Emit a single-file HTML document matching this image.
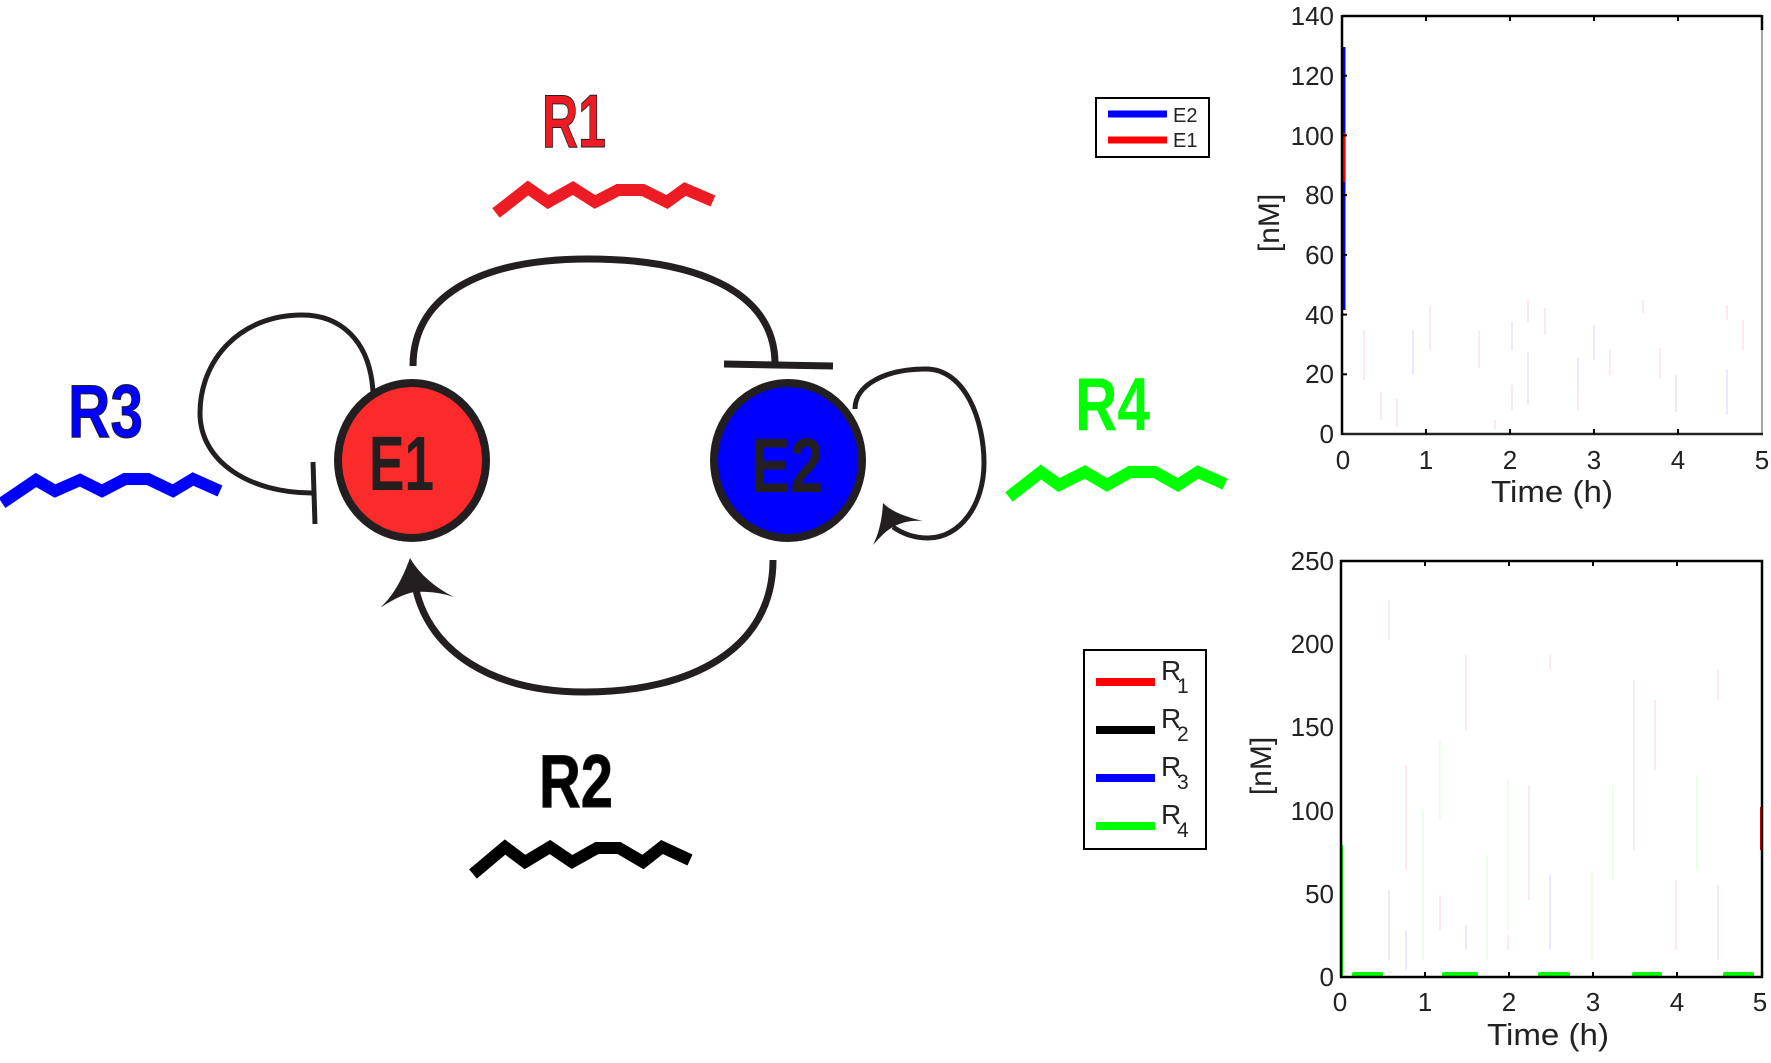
<!DOCTYPE html>
<html>
<head>
<meta charset="utf-8">
<style>
  html, body { margin: 0; padding: 0; background: #ffffff; }
  svg { display: block; }
  text { font-family: "Liberation Sans", "DejaVu Sans", sans-serif; }
</style>
</head>
<body>
<svg width="1771" height="1063" viewBox="0 0 1771 1063" xmlns="http://www.w3.org/2000/svg">
  <rect x="0" y="0" width="1771" height="1063" fill="#ffffff"/>

  <!-- ================= DIAGRAM ================= -->
  <path d="M413,366 C413,290 490,259 588,259 C690,259 775,288 775,364" fill="none" stroke="#231f20" stroke-width="7"/>
  <line x1="724" y1="364" x2="833" y2="366" stroke="#231f20" stroke-width="7"/>

  <path d="M773,560 C773,650 690,692 585,692 C490,692 430,650 416,590" fill="none" stroke="#231f20" stroke-width="7"/>
  <path d="M410,558 C402,580 393,596 380,608 C392,600 404,594 414,592 C428,591 442,593 454,597 C436,588 420,575 410,558 Z" fill="#231f20"/>

  <path d="M373,392 C370,340 340,315 302,315 C240,315 200,360 200,413 C200,462 250,493 312,493" fill="none" stroke="#231f20" stroke-width="5"/>
  <line x1="313" y1="462" x2="315" y2="524" stroke="#231f20" stroke-width="5"/>

  <path d="M855,409 C855,385 885,369 926,369 C965,369 984,420 984,463 C984,505 960,538 928,538 C915,538 903,534 893,527" fill="none" stroke="#231f20" stroke-width="5"/>
  <path d="M883,503 C882,520 879,533 873,545 C881,536 887,530 893,527 C902,522 912,520 923,521 C906,517 892,512 883,503 Z" fill="#231f20"/>

  <ellipse cx="412" cy="460.5" rx="74" ry="77.5" fill="#fb2a2b" stroke="#231f20" stroke-width="8"/>
  <text x="369" y="490" font-size="77" font-weight="bold" fill="#231f20" textLength="65" lengthAdjust="spacingAndGlyphs">E1</text>

  <ellipse cx="788" cy="460.5" rx="74" ry="77.5" fill="#0000ff" stroke="#231f20" stroke-width="8"/>
  <text x="751" y="492" font-size="77" font-weight="bold" fill="#231f20" textLength="72" lengthAdjust="spacingAndGlyphs">E2</text>

  <text x="542" y="147" font-size="75" font-weight="bold" fill="#ed1c24" stroke="#231f20" stroke-width="1" textLength="64" lengthAdjust="spacingAndGlyphs">R1</text>
  <polyline points="496,213 528,188 548,202 573,188 595,202 618,190 643,190 667,202 685,189 713,201" fill="none" stroke="#ed1c24" stroke-width="12" stroke-linejoin="miter"/>

  <text x="68" y="437" font-size="75" font-weight="bold" fill="#0000ff" stroke="#231f20" stroke-width="1" textLength="75" lengthAdjust="spacingAndGlyphs">R3</text>
  <polyline points="2,503 36,480 55,491 80,480 102,491 125,479 148,479 173,491 193,479 220,491" fill="none" stroke="#0000ff" stroke-width="12" stroke-linejoin="miter"/>

  <text x="1075" y="430" font-size="75" font-weight="bold" fill="#00ff00" textLength="75" lengthAdjust="spacingAndGlyphs">R4</text>
  <polyline points="1009,497 1041,472 1059,485 1085,472 1107,485 1130,472 1155,472 1178,485 1198,472 1225,484" fill="none" stroke="#00ff00" stroke-width="12" stroke-linejoin="miter"/>

  <text x="539" y="807" font-size="75" font-weight="bold" fill="#000000" stroke="#231f20" stroke-width="1" textLength="74" lengthAdjust="spacingAndGlyphs">R2</text>
  <polyline points="473,874 505,847 525,862 550,847 572,862 597,848 619,848 643,862 662,847 690,860" fill="none" stroke="#000000" stroke-width="12" stroke-linejoin="miter"/>

  <!-- ================= LEGEND 1 ================= -->
  <rect x="1096" y="98" width="113" height="59" fill="#ffffff" stroke="#000000" stroke-width="2"/>
  <line x1="1108" y1="114" x2="1167" y2="114" stroke="#0000ff" stroke-width="7"/>
  <line x1="1108" y1="140" x2="1167" y2="140" stroke="#ff0000" stroke-width="7"/>
  <text x="1173" y="122" font-size="20" fill="#222">E2</text>
  <text x="1173" y="147" font-size="20" fill="#222">E1</text>

  <!-- ================= LEGEND 2 ================= -->
  <rect x="1084" y="650" width="122" height="199" fill="#ffffff" stroke="#000000" stroke-width="2"/>
  <line x1="1096" y1="682" x2="1155" y2="682" stroke="#ff0000" stroke-width="8"/>
  <line x1="1096" y1="730" x2="1155" y2="730" stroke="#000000" stroke-width="8"/>
  <line x1="1096" y1="778" x2="1155" y2="778" stroke="#0000ff" stroke-width="8"/>
  <line x1="1096" y1="826" x2="1155" y2="826" stroke="#00ff00" stroke-width="8"/>
  <g fill="#222">
    <text x="1161" y="680" font-size="28">R</text><text x="1177" y="693" font-size="21">1</text>
    <text x="1161" y="728" font-size="28">R</text><text x="1177" y="741" font-size="21">2</text>
    <text x="1161" y="776" font-size="28">R</text><text x="1177" y="789" font-size="21">3</text>
    <text x="1161" y="824" font-size="28">R</text><text x="1177" y="837" font-size="21">4</text>
  </g>

  <!-- ================= TOP PLOT ================= -->
  <g>
    <g stroke-width="1.2" opacity="0.14">
      <line x1="1364" y1="330" x2="1364" y2="380" stroke="#ff0000"/>
      <line x1="1381" y1="392" x2="1381" y2="420" stroke="#ff0000"/>
      <line x1="1397" y1="399" x2="1397" y2="427" stroke="#ff0000"/>
      <line x1="1413" y1="330" x2="1413" y2="375" stroke="#0000ff"/>
      <line x1="1430" y1="306" x2="1430" y2="350" stroke="#ff0000"/>
      <line x1="1479" y1="331" x2="1479" y2="368" stroke="#ff0000"/>
      <line x1="1495" y1="420" x2="1495" y2="430" stroke="#ff0000"/>
      <line x1="1512" y1="385" x2="1512" y2="410" stroke="#ff0000"/>
      <line x1="1512" y1="322" x2="1512" y2="350" stroke="#0000ff"/>
      <line x1="1528" y1="300" x2="1528" y2="322" stroke="#ff0000"/>
      <line x1="1528" y1="352" x2="1528" y2="405" stroke="#0000ff"/>
      <line x1="1545" y1="308" x2="1545" y2="335" stroke="#ff0000"/>
      <line x1="1578" y1="388" x2="1578" y2="410" stroke="#ff0000"/>
      <line x1="1578" y1="358" x2="1578" y2="390" stroke="#0000ff"/>
      <line x1="1594" y1="325" x2="1594" y2="360" stroke="#0000ff"/>
      <line x1="1610" y1="350" x2="1610" y2="375" stroke="#ff0000"/>
      <line x1="1643" y1="300" x2="1643" y2="313" stroke="#ff0000"/>
      <line x1="1660" y1="348" x2="1660" y2="378" stroke="#ff0000"/>
      <line x1="1676" y1="375" x2="1676" y2="412" stroke="#0000ff"/>
      <line x1="1727" y1="305" x2="1727" y2="320" stroke="#ff0000"/>
      <line x1="1727" y1="370" x2="1727" y2="414" stroke="#0000ff"/>
      <line x1="1743" y1="320" x2="1743" y2="350" stroke="#ff0000"/>
    </g>
    <line x1="1344" y1="47" x2="1344" y2="310" stroke="#0000ff" stroke-width="3"/>
    <line x1="1343.5" y1="133" x2="1343.5" y2="182" stroke="#ff0000" stroke-width="3"/>

    <line x1="1342" y1="16" x2="1762" y2="16" stroke="#000" stroke-width="2.5"/>
    <line x1="1762" y1="16" x2="1762" y2="434" stroke="#888" stroke-width="1.5"/>
    <line x1="1762" y1="15" x2="1762" y2="30" stroke="#000" stroke-width="2.5"/>
    <line x1="1342" y1="434" x2="1763" y2="434" stroke="#222" stroke-width="2.5"/>
    <line x1="1342" y1="15" x2="1342" y2="435" stroke="#000" stroke-width="2.5"/>
    <g stroke="#000" stroke-width="2">
      <line x1="1426" y1="16" x2="1426" y2="21"/><line x1="1510" y1="16" x2="1510" y2="21"/>
      <line x1="1594" y1="16" x2="1594" y2="21"/><line x1="1678" y1="16" x2="1678" y2="21"/>
      <line x1="1426" y1="434" x2="1426" y2="429"/><line x1="1510" y1="434" x2="1510" y2="429"/>
      <line x1="1594" y1="434" x2="1594" y2="429"/><line x1="1678" y1="434" x2="1678" y2="429"/>
    </g>
    <g stroke="#000" stroke-width="2">
      <line x1="1342" y1="374.3" x2="1347" y2="374.3"/><line x1="1342" y1="314.6" x2="1347" y2="314.6"/>
      <line x1="1342" y1="254.9" x2="1347" y2="254.9"/><line x1="1342" y1="195.1" x2="1347" y2="195.1"/>
      <line x1="1342" y1="135.4" x2="1347" y2="135.4"/><line x1="1342" y1="75.7" x2="1347" y2="75.7"/>
    </g>
    <g font-size="26" fill="#222" text-anchor="end">
      <text x="1334" y="443">0</text>
      <text x="1334" y="383">20</text>
      <text x="1334" y="324">40</text>
      <text x="1334" y="264">60</text>
      <text x="1334" y="204">80</text>
      <text x="1334" y="145">100</text>
      <text x="1334" y="85">120</text>
      <text x="1334" y="25">140</text>
    </g>
    <g font-size="26" fill="#222" text-anchor="middle">
      <text x="1343" y="469">0</text>
      <text x="1426" y="469">1</text>
      <text x="1510" y="469">2</text>
      <text x="1594" y="469">3</text>
      <text x="1678" y="469">4</text>
      <text x="1762" y="469">5</text>
    </g>
    <text x="1491" y="502" font-size="31" fill="#222" textLength="122" lengthAdjust="spacingAndGlyphs">Time (h)</text>
    <text x="0" y="0" font-size="30" fill="#222" text-anchor="middle" transform="translate(1279,223) rotate(-90)">[nM]</text>
  </g>

  <!-- ================= BOTTOM PLOT ================= -->
  <g>
    <g stroke-width="1.2" opacity="0.14">
      <line x1="1389" y1="600" x2="1389" y2="640" stroke="#ff0000"/>
      <line x1="1389" y1="890" x2="1389" y2="960" stroke="#0000ff"/>
      <line x1="1406" y1="765" x2="1406" y2="870" stroke="#ff0000"/>
      <line x1="1406" y1="930" x2="1406" y2="970" stroke="#0000ff"/>
      <line x1="1423" y1="810" x2="1423" y2="960" stroke="#00ff00"/>
      <line x1="1440" y1="740" x2="1440" y2="820" stroke="#00ff00"/>
      <line x1="1440" y1="895" x2="1440" y2="930" stroke="#ff0000"/>
      <line x1="1466" y1="655" x2="1466" y2="730" stroke="#ff0000"/>
      <line x1="1466" y1="925" x2="1466" y2="950" stroke="#0000ff"/>
      <line x1="1487" y1="855" x2="1487" y2="960" stroke="#00ff00"/>
      <line x1="1508" y1="780" x2="1508" y2="930" stroke="#00ff00"/>
      <line x1="1508" y1="935" x2="1508" y2="950" stroke="#ff0000"/>
      <line x1="1529" y1="785" x2="1529" y2="900" stroke="#ff0000"/>
      <line x1="1550" y1="655" x2="1550" y2="670" stroke="#ff0000"/>
      <line x1="1550" y1="875" x2="1550" y2="950" stroke="#0000ff"/>
      <line x1="1592" y1="870" x2="1592" y2="960" stroke="#00ff00"/>
      <line x1="1613" y1="785" x2="1613" y2="880" stroke="#00ff00"/>
      <line x1="1634" y1="680" x2="1634" y2="850" stroke="#ff0000"/>
      <line x1="1655" y1="700" x2="1655" y2="770" stroke="#ff0000"/>
      <line x1="1676" y1="880" x2="1676" y2="950" stroke="#ff0000"/>
      <line x1="1697" y1="775" x2="1697" y2="870" stroke="#00ff00"/>
      <line x1="1718" y1="670" x2="1718" y2="700" stroke="#ff0000"/>
      <line x1="1718" y1="885" x2="1718" y2="960" stroke="#0000ff"/>
    </g>
    <line x1="1341.5" y1="845" x2="1341.5" y2="977" stroke="#00ff00" stroke-width="3"/>
    <line x1="1761" y1="807" x2="1761" y2="850" stroke="#ff0000" stroke-width="2"/>
    <g fill="#00ff00">
      <rect x="1352" y="972" width="31" height="5" rx="2"/>
      <rect x="1442" y="972" width="36" height="5" rx="2"/>
      <rect x="1538" y="972" width="32" height="5" rx="2"/>
      <rect x="1632" y="972" width="30" height="5" rx="2"/>
      <rect x="1723" y="972" width="31" height="5" rx="2"/>
    </g>
    <rect x="1341" y="561" width="421" height="416" fill="none" stroke="#000" stroke-width="2.5"/>
    <g stroke="#000" stroke-width="2">
      <line x1="1425" y1="561" x2="1425" y2="566"/><line x1="1509" y1="561" x2="1509" y2="566"/>
      <line x1="1593" y1="561" x2="1593" y2="566"/><line x1="1677" y1="561" x2="1677" y2="566"/>
      <line x1="1425" y1="977" x2="1425" y2="972"/><line x1="1509" y1="977" x2="1509" y2="972"/>
      <line x1="1593" y1="977" x2="1593" y2="972"/><line x1="1677" y1="977" x2="1677" y2="972"/>
    </g>
    <g font-size="26" fill="#222" text-anchor="end">
      <text x="1334" y="986">0</text>
      <text x="1334" y="903">50</text>
      <text x="1334" y="820">100</text>
      <text x="1334" y="736">150</text>
      <text x="1334" y="653">200</text>
      <text x="1334" y="570">250</text>
    </g>
    <g font-size="26" fill="#222" text-anchor="middle">
      <text x="1340" y="1011">0</text>
      <text x="1425" y="1011">1</text>
      <text x="1509" y="1011">2</text>
      <text x="1593" y="1011">3</text>
      <text x="1677" y="1011">4</text>
      <text x="1760" y="1011">5</text>
    </g>
    <text x="1487" y="1045" font-size="31" fill="#222" textLength="122" lengthAdjust="spacingAndGlyphs">Time (h)</text>
    <text x="0" y="0" font-size="30" fill="#222" text-anchor="middle" transform="translate(1271,766) rotate(-90)">[nM]</text>
  </g>
</svg>
</body>
</html>
